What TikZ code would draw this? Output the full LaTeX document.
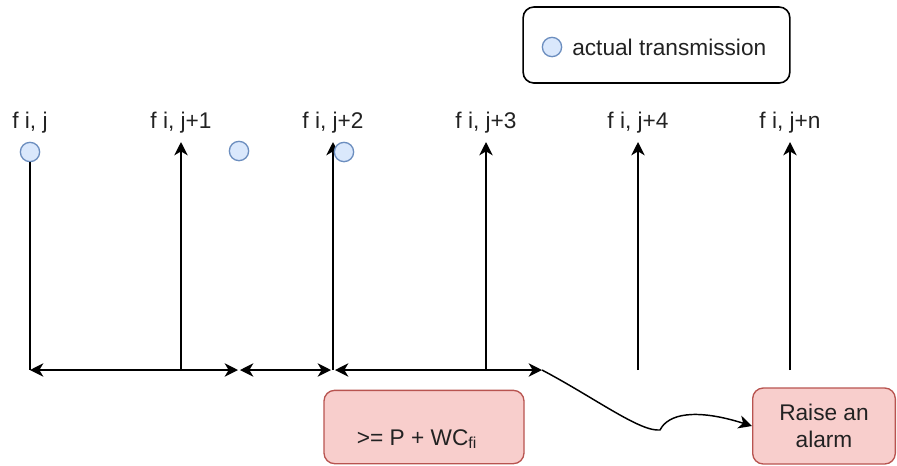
\documentclass[tikz,border=0pt]{standalone}
\usepackage{fontspec}
\setmainfont{Liberation Sans}
\usetikzlibrary{arrows.meta}
\definecolor{txt}{HTML}{222222}
\definecolor{redfill}{HTML}{F8CECC}
\definecolor{redline}{HTML}{B85450}
\definecolor{bluefill}{HTML}{DAE8FC}
\definecolor{blueline}{HTML}{6C8EBF}
\begin{document}
\begin{tikzpicture}[x=0.75pt,y=-0.75pt,
  font=\fontsize{17}{20}\selectfont,
  tip/.style={-{Stealth[length=10pt,width=10pt,inset=3pt]}},
  dtip/.style={{Stealth[length=10pt,width=10pt,inset=3pt]}-{Stealth[length=10pt,width=10pt,inset=3pt]}},
  line/.style={draw=black,line width=1.3pt},
  lbl/.style={text=txt,inner sep=0pt},
  tx/.style={circle,draw=blueline,fill=bluefill,line width=1pt,minimum size=14.5pt,inner sep=0pt},
  redbox/.style={draw=redline,fill=redfill,line width=1pt,rounded corners=8pt,inner sep=0pt,text=txt,align=center}]
\useasboundingbox (0,0) rectangle (897,465);

% legend
\node[draw=black,line width=1.2pt,rounded corners=8pt,minimum width=200pt,minimum height=57pt,inner sep=0pt] (legend) at (656.5,45) {};
\node[tx] (lc) at (552,47) {};
\node[lbl,anchor=west] (lt) at (572,47) {actual transmission};

% labels
\node[lbl] (l0) at (30,123) {f i, j};
\node[lbl] (l1) at (181,123) {f i, j+1};
\node[lbl] (l2) at (333,123) {f i, j+2};
\node[lbl] (l3) at (486,123) {f i, j+3};
\node[lbl] (l4) at (638,123) {f i, j+4};
\node[lbl] (l5) at (790,123) {f i, j+n};

% baseline points
\coordinate (b0) at (30,370);
\coordinate (b1) at (181,370);
\coordinate (b2) at (333,370);
\coordinate (b3) at (486,370);
\coordinate (b4) at (638,370);
\coordinate (b5) at (790,370);
\coordinate (t1) at (181,142);
\coordinate (t2) at (333,142);
\coordinate (t3) at (486,142);
\coordinate (t4) at (638,142);
\coordinate (t5) at (790,142);
\coordinate (h1) at (238,370);
\coordinate (h2) at (240,370);
\coordinate (h3) at (331,370);
\coordinate (h4) at (335,370);
\coordinate (h5) at (542,370);

% circles
\node[tx] (c0) at (30,152) {};
\node[tx] (c1) at (239,151) {};

% vertical lines
\draw[line] (c0.south) -- (b0);
\draw[line,tip] (b1) -- (t1);
\draw[line,tip] (b2) -- (t2);
\draw[line,tip] (b3) -- (t3);
\draw[line,tip] (b4) -- (t4);
\draw[line,tip] (b5) -- (t5);

\node[tx] (c2) at (344,152) {};

% horizontal arrows
\draw[line,dtip] (b0) -- (h1);
\draw[line,dtip] (h2) -- (h3);
\draw[line,dtip] (h4) -- (h5);

% boxes
\node[redbox,minimum width=150pt,minimum height=55pt] (cond) at (424,427) {};
\node[lbl] (condt) at (417,439) {>= P + WC\textsubscript{fi}};
\node[redbox,minimum width=107pt,minimum height=57pt] (alarm) at (824,426) {Raise an\\alarm};

% curved connector
\draw[line,line width=1.1pt,tip] (h5) .. controls (595,398) and (640,432) .. (660,430)
  .. controls (668,414) and (695,408) .. (alarm.west);
\end{tikzpicture}
\end{document}
